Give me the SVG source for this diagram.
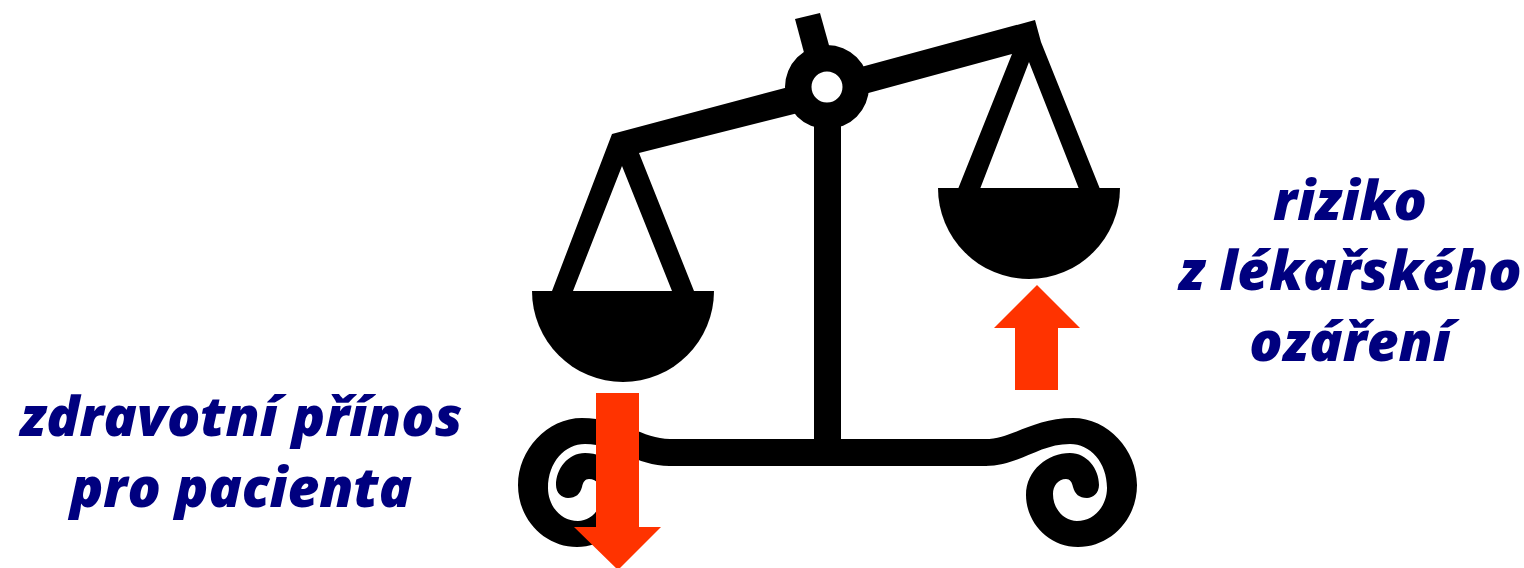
<svg xmlns="http://www.w3.org/2000/svg" width="1524" height="568" viewBox="0 0 1524 568">
<style>
.l{font-family:"Open Sans","Noto Sans",sans-serif;font-style:italic;font-weight:800;font-size:55px;fill:#00007f;text-anchor:middle}
.a{fill:#ff3300}
</style>
<defs>
<path id="curl" d="M985 439C1012 439 1033 418 1073 418C1108 418 1137 450 1137 485C1137 520 1110 547 1078 547C1048 547 1026 522 1026 495C1026 470 1048 453 1070 453C1087 453 1099 469 1099 485C1099 493 1093 498 1087 498C1079 498 1075 494 1073 487C1072 482 1070 479 1066 479C1058 479 1053 486 1053 494C1053 510 1065 521 1077 521C1095 521 1107 505 1107 488C1107 462 1090 444 1070 444C1038 444 1020 466 985 466Z"/>
</defs>
<rect width="1524" height="568" fill="#fff"/>
<g id="scale">
<path d="M612 134L800 84L810 110L639 153L694 291H672L622 166L573 291H552Z"/>
<path d="M850 70L1035 20L1041 42L1100 189H1079L1029 62L980 189H958L1012 54L850 98Z"/>
<path d="M795 19L820 13L832 56L806 60Z"/>
<path fill-rule="evenodd" d="M869 87A42 42 0 1 1 785 87A42 42 0 1 1 869 87ZM842.500 87A15.500 15.500 0 1 0 811.500 87A15.500 15.500 0 1 0 842.500 87Z"/>
<rect x="814" y="120" width="27" height="330"/>
<path d="M532 291H714A91 91 0 0 1 532 291Z"/>
<path d="M938 188H1120A91 91 0 0 1 938 188Z"/>
<rect x="668" y="439" width="319" height="27"/>
<use href="#curl"/>
<use href="#curl" transform="translate(1655 0) scale(-1 1)"/>
</g>
<g id="arrow-down"><path class="a" d="M596 393H639V527H661L618 570L574 527H596Z"/></g>
<g id="arrow-up"><path class="a" d="M1015 390H1058V328H1080L1037 285L994 328H1015Z"/></g>
<g id="label-benefit">
<text class="l"><tspan x="241" y="436">zdravotní přínos</tspan><tspan x="241" y="507">pro pacienta</tspan></text>
</g>
<g id="label-risk">
<text class="l"><tspan x="1350" y="220">riziko</tspan><tspan x="1350" y="290">z lékařského</tspan><tspan x="1350" y="361">ozáření</tspan></text>
</g>
</svg>
